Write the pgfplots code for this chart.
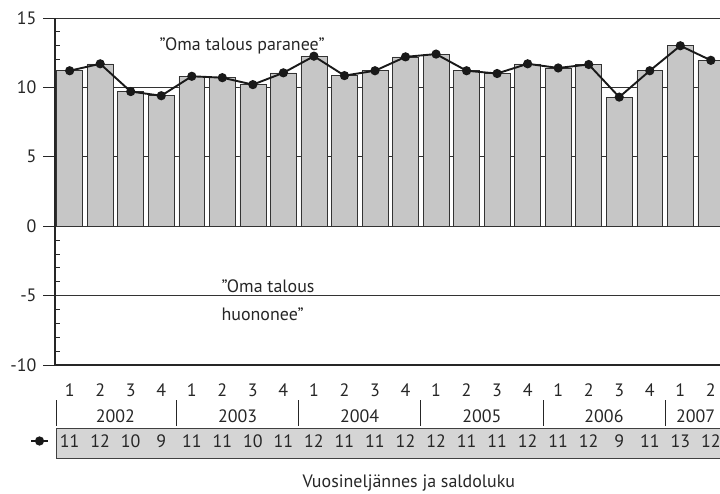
\documentclass[border=0pt]{standalone}
\usepackage{fontspec}
\setmainfont{PT Sans}
\usepackage{pgfplots}
\pgfplotsset{compat=1.18}
\usepackage{pgfplotstable}

% quarter index, saldoluku (balance), rounded value shown in the table row
\pgfplotstableread{
i  val   lbl
0  11.2  11
1  11.7  12
2  9.7   10
3  9.4   9
4  10.8  11
5  10.7  11
6  10.2  10
7  11.05 11
8  12.25 12
9  10.85 11
10 11.2  11
11 12.2  12
12 12.4  12
13 11.2  11
14 11.0  11
15 11.7  12
16 11.4  11
17 11.65 12
18 9.3   9
19 11.2  11
20 13.0  13
21 11.95 12
}\saldo

\newcommand\lbfont{\fontsize{18}{21}\selectfont}

\begin{document}
\begin{tikzpicture}
\path[use as bounding box] (0,0) rectangle (720bp,494bp);
\begin{axis}[
  at={(55bp,129bp)}, anchor=south west,
  scale only axis, width=665bp, height=347bp,
  xmin=-0.48, xmax=21.3, ymin=-10, ymax=15,
  clip=false,
  axis y line*=left, axis x line*=bottom,
  axis line style={line width=1.2bp, black!85},
  ytick={-10,-5,...,15}, minor y tick num=4,
  ymajorgrids, grid style={line width=0.8bp, black!80},
  tick align=outside, major tick length=12bp, minor tick length=5bp,
  minor tick style={xshift=5bp},
  tick style={black!85, line width=0.8bp},
  xtick={0,...,21},
  xticklabels={1,2,3,4,1,2,3,4,1,2,3,4,1,2,3,4,1,2,3,4,1,2},
  x tick style={draw=none},
  xticklabel style={anchor=center, yshift=-13bp},
  yticklabel style={xshift=-3bp},
  tick label style={font=\lbfont, text=black!85},
  /pgf/number format/assume math mode=true,
  legend style={at={(axis description cs:-0.0203,-0.219)}, anchor=center,
    draw=none, fill=none, inner sep=0pt},
]
\addplot[ybar, bar width=0.85, fill=gray!45, draw=black!80, line width=0.6bp, forget plot]
  table[x=i, y=val]{\saldo};
\addplot[black!90, line width=1.9bp, mark=*, mark size=3.6bp]
  table[x=i, y=val]{\saldo};
\addlegendentry{}

\node[font=\lbfont, text=black!85] at (axis cs:5.65,13.0) {”Oma talous paranee”};
\node[font=\lbfont, text=black!85, anchor=west] at (axis cs:4.86,-4.3) {”Oma talous};
\node[font=\lbfont, text=black!85, anchor=west] at (axis cs:4.86,-6.34) {huononee”};

% year row
\pgfplotsinvokeforeach{-0.45,3.5,7.5,11.5,15.5,19.5}{
  \draw[line width=0.8bp, black!85] ([yshift=-35bp]axis cs:#1,-10) -- ([yshift=-61bp]axis cs:#1,-10);
}
\node[font=\lbfont, text=black!85] at ([yshift=-51.5bp]axis cs:1.5,-10) {2002};
\node[font=\lbfont, text=black!85] at ([yshift=-51.5bp]axis cs:5.5,-10) {2003};
\node[font=\lbfont, text=black!85] at ([yshift=-51.5bp]axis cs:9.5,-10) {2004};
\node[font=\lbfont, text=black!85] at ([yshift=-51.5bp]axis cs:13.5,-10) {2005};
\node[font=\lbfont, text=black!85] at ([yshift=-51.5bp]axis cs:17.5,-10) {2006};
\node[font=\lbfont, text=black!85] at ([yshift=-51.5bp]axis cs:20.5,-10) {2007};

% table row with the values
\draw[fill=gray!33, draw=black!75, line width=0.8bp]
  ([yshift=-63bp]axis cs:-0.43,-10) rectangle ([yshift=-93bp]axis cs:22,-10);
\pgfplotstableforeachcolumnelement{lbl}\of\saldo\as\cell{%
  \edef\tmp{\noexpand\node[font=\noexpand\lbfont, text=black!85]
    at ([yshift=-76.5bp]axis cs:\pgfplotstablerow,-10) {\cell};}\tmp}

\node[font=\lbfont, text=black!85, anchor=base] at ([yshift=-122bp]axis cs:11.11,-10)
  {Vuosineljännes ja saldoluku};
\end{axis}
\end{tikzpicture}
\end{document}
